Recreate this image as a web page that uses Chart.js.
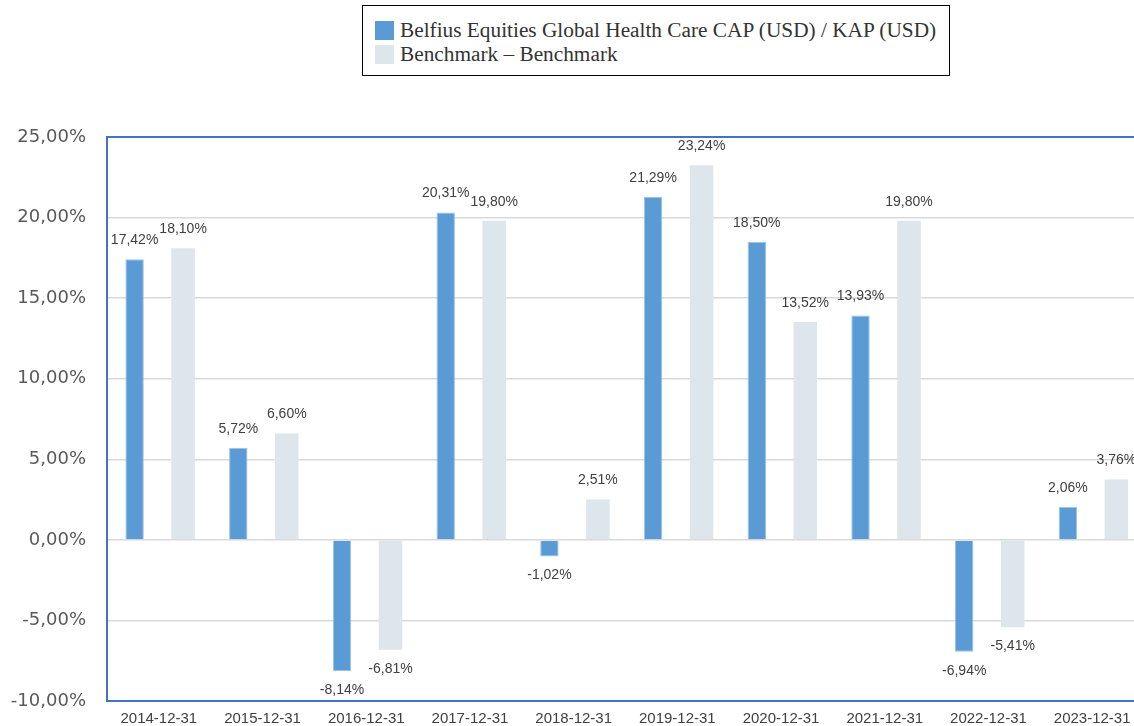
<!DOCTYPE html>
<html>
<head>
<meta charset="utf-8">
<script src="https://cdn.jsdelivr.net/npm/chart.js@4.4.0/dist/chart.umd.min.js"></script>
<style>
  html, body { margin: 0; padding: 0; background: #fff; overflow: hidden; width: 1134px; height: 726px; }
  #wrap { position: absolute; left: 0; top: 0; width: 1150px; height: 733px; }
  #legendBox {
    position: absolute; left: 362px; top: 5px; width: 588px; height: 71px;
    box-sizing: border-box; border: 1.5px solid #000; background: #fff;
    padding: 12px 0 0 12px;
    font-family: "Liberation Serif", "Times New Roman", serif; font-size: 21.3px; color: #333;
  }
  .item { height: 24px; line-height: 24px; white-space: nowrap; }
  .swatch { display: inline-block; width: 19px; height: 19px; vertical-align: -3px; margin-right: 6px; }
</style>
</head>
<body>
<div id="wrap">
  <canvas id="perfChart" width="1150" height="733"></canvas>
</div>
<div id="legendBox"></div>
<script>
const categories = ['2014-12-31', '2015-12-31', '2016-12-31', '2017-12-31', '2018-12-31',
                    '2019-12-31', '2020-12-31', '2021-12-31', '2022-12-31', '2023-12-31'];
const fundValues = [17.42, 5.72, -8.14, 20.31, -1.02, 21.29, 18.50, 13.93, -6.94, 2.06];
const benchValues = [18.10, 6.60, -6.81, 19.80, 2.51, 23.24, 13.52, 19.80, -5.41, 3.76];
const yMin = -10;
const yMax = 25;
const yStep = 5;

const fundLabel = 'Belfius Equities Global Health Care CAP (USD) / KAP (USD)';
const benchLabel = 'Benchmark \u2013 Benchmark';
const fundColor = '#5B9BD5';
const benchColor = '#DCE6EC';
const frameColor = '#4472C4';

function fmtPct(v) {
  return v.toFixed(2).replace('.', ',') + '%';
}

// value labels above / below each bar
const valueLabels = {
  id: 'valueLabels',
  afterDatasetsDraw(chart) {
    const ctx = chart.ctx;
    ctx.save();
    ctx.font = '14px "Liberation Sans", Arial, sans-serif';
    ctx.fillStyle = '#404040';
    ctx.textAlign = 'center';
    ctx.textBaseline = 'middle';
    chart.data.datasets.forEach((ds, i) => {
      const meta = chart.getDatasetMeta(i);
      meta.data.forEach((bar, j) => {
        const v = ds.data[j];
        const y = v >= 0 ? bar.y - 19 : bar.y + 19;
        ctx.fillText(fmtPct(v), bar.x, y);
      });
    });
    ctx.restore();
  }
};

// blue line along the top of the plot area
const topFrame = {
  id: 'topFrame',
  afterDraw(chart) {
    const a = chart.chartArea;
    const ctx = chart.ctx;
    ctx.save();
    ctx.strokeStyle = frameColor;
    ctx.lineWidth = 2;
    ctx.beginPath();
    ctx.moveTo(a.left - 1, a.top);
    ctx.lineTo(a.right, a.top);
    ctx.stroke();
    ctx.restore();
  }
};

const chart = new Chart(document.getElementById('perfChart'), {
  type: 'bar',
  data: {
    labels: categories,
    datasets: [
      {
        label: fundLabel,
        data: fundValues,
        backgroundColor: fundColor,
        borderColor: '#9CC2E6',
        borderWidth: 1,
        categoryPercentage: 0.935,
        barPercentage: 0.38
      },
      {
        label: benchLabel,
        data: benchValues,
        backgroundColor: benchColor,
        borderWidth: 0,
        categoryPercentage: 0.935,
        barPercentage: 0.485
      }
    ]
  },
  options: {
    responsive: false,
    animation: false,
    layout: {
      padding: { top: 137, right: 6, bottom: 0, left: 0 }
    },
    plugins: {
      legend: { display: false },
      tooltip: { enabled: false },
      title: { display: false }
    },
    scales: {
      x: {
        afterFit: function(scale) {
          scale.height = 27;
        },
        grid: { display: false, drawTicks: false },
        border: { display: true, color: frameColor, width: 2 },
        ticks: {
          padding: 9,
          color: '#404040',
          font: { family: '"Liberation Sans", Arial, sans-serif', size: 15 },
          maxRotation: 0,
          autoSkip: false
        }
      },
      y: {
        min: yMin,
        max: yMax,
        afterFit: function(scale) {
          scale.width = 107;
        },
        grid: { color: '#D9D9D9', lineWidth: 1.5, drawTicks: false },
        border: { display: true, color: frameColor, width: 2 },
        ticks: {
          stepSize: yStep,
          padding: 21,
          color: '#595959',
          font: { family: '"DejaVu Sans", sans-serif', size: 18 },
          callback: function(value) {
            return fmtPct(value);
          }
        }
      }
    }
  },
  plugins: [valueLabels, topFrame]
});

// legend drawn as a boxed block above the chart
const legendBox = document.getElementById('legendBox');
chart.data.datasets.forEach(ds => {
  const row = document.createElement('div');
  row.className = 'item';
  const sw = document.createElement('span');
  sw.className = 'swatch';
  sw.style.background = ds.backgroundColor;
  row.appendChild(sw);
  row.appendChild(document.createTextNode(ds.label));
  legendBox.appendChild(row);
});
</script>
</body>
</html>
